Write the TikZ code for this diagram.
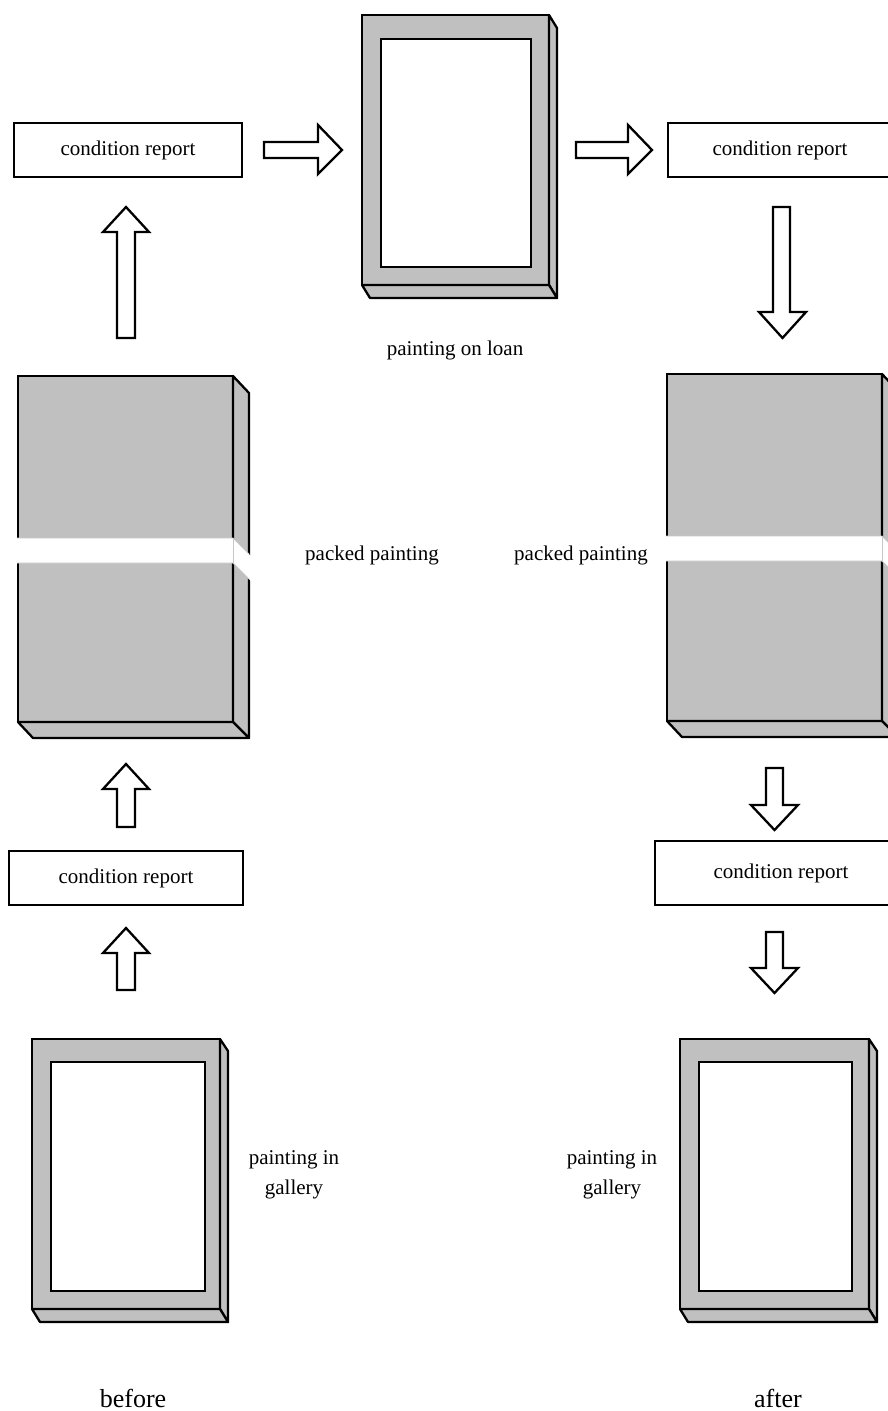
\documentclass[tikz,border=0pt]{standalone}
\usepackage{fontspec}
\setmainfont{Liberation Serif}
\usetikzlibrary{calc}
\definecolor{boxgrey}{HTML}{C0C0C0}
\definecolor{bandline}{HTML}{C8C8C8}
\begin{document}
\begin{tikzpicture}[x=1pt,y=-1pt,
  report/.style={draw, line width=2.3pt, fill=white, minimum width=228pt, minimum height=54pt,
    inner sep=0pt, outer sep=0pt, font=\fontsize{21}{25}\selectfont},
  front/.style={draw, line width=2.3pt, fill=boxgrey, inner sep=0pt, outer sep=0pt},
  face/.style={draw, line width=2.3pt, fill=boxgrey, line join=round},
  canvas/.style={draw, line width=2.3pt, fill=white},
  lbl/.style={font=\fontsize{21}{30}\selectfont, align=center, inner sep=0pt},
  biglbl/.style={font=\fontsize{26}{30}\selectfont, inner sep=0pt},
  blockarrow/.style={draw, line width=2.3pt, fill=white, line join=miter},
  band/.style={draw=bandline, line width=0.8pt}
]
\useasboundingbox (0,0) rectangle (888,1411);

% ---------- condition reports ----------
\node[report] (crTL) at (128,150) {condition report};
\node[report, minimum width=224pt] (crTR) at (780,150) {condition report};
\node[report, minimum width=234pt] (crML) at (126,878) {condition report};
\node[report, minimum width=252pt, minimum height=64pt] (crMR) at (781,873) {condition report};

% ---------- painting on loan ----------
\node[front, minimum width=187pt, minimum height=270pt] (loan) at (455.5,150) {};
\draw[face] (loan.north east) -- ++(8,13) -- ($(loan.south east)+(8,13)$) -- (loan.south east) -- cycle;
\draw[face] (loan.south west) -- ++(8,13) -- ($(loan.south east)+(8,13)$) -- (loan.south east) -- cycle;
\draw[canvas] ($(loan.north west)+(19,24)$) rectangle ($(loan.south east)+(-18,-18)$);

% ---------- gallery paintings ----------
\node[front, minimum width=188pt, minimum height=270pt] (galL) at (126,1174) {};
\draw[face] (galL.north east) -- ++(8,12) -- ($(galL.south east)+(8,13)$) -- (galL.south east) -- cycle;
\draw[face] (galL.south west) -- ++(8,13) -- ($(galL.south east)+(8,13)$) -- (galL.south east) -- cycle;
\draw[canvas] ($(galL.north west)+(19,23)$) rectangle ($(galL.south east)+(-15,-18)$);

\node[front, minimum width=189pt, minimum height=270pt] (galR) at (774.5,1174) {};
\draw[face] (galR.north east) -- ++(8,12) -- ($(galR.south east)+(8,13)$) -- (galR.south east) -- cycle;
\draw[face] (galR.south west) -- ++(8,13) -- ($(galR.south east)+(8,13)$) -- (galR.south east) -- cycle;
\draw[canvas] ($(galR.north west)+(19,23)$) rectangle ($(galR.south east)+(-17,-18)$);

% ---------- packed paintings ----------
\node[front, minimum width=215pt, minimum height=346pt] (packL) at (125.5,549) {};
\draw[face] (packL.north east) -- ++(16,17) -- ($(packL.south east)+(16,16)$) -- (packL.south east) -- cycle;
\draw[face] (packL.south west) -- ++(15,16) -- ($(packL.south east)+(16,16)$) -- (packL.south east) -- cycle;
\fill[white] (16,538) -- (233,538) -- (251.5,556.5) -- (251.5,581.5) -- (233,563) -- (16,563) -- cycle;
\draw[band] (17,538) -- (233,538) -- (249,554);
\draw[band] (17,563) -- (233,563) -- (249,579);
\draw[band] (233,538) -- (233,563);

\node[front, minimum width=215pt, minimum height=347pt] (packR) at (774.5,547.5) {};
\draw[face] (packR.north east) -- ++(16,17) -- ($(packR.south east)+(16,16)$) -- (packR.south east) -- cycle;
\draw[face] (packR.south west) -- ++(15,16) -- ($(packR.south east)+(16,16)$) -- (packR.south east) -- cycle;
\fill[white] (665,536) -- (882,536) -- (900,554) -- (900,579) -- (882,561) -- (665,561) -- cycle;
\draw[band] (666,536) -- (882,536) -- (898,552);
\draw[band] (666,561) -- (882,561) -- (898,577);
\draw[band] (882,536) -- (882,561);

% ---------- block arrows ----------
% crTL -> loan
\draw[blockarrow] (264,142) -- (318,142) -- (318,125) -- (342,150) -- (318,174) -- (318,158) -- (264,158) -- cycle;
% loan -> crTR
\draw[blockarrow] (576,142) -- (628,142) -- (628,125) -- (652,150) -- (628,174) -- (628,158) -- (576,158) -- cycle;
% packL -> crTL
\draw[blockarrow] (117,338) -- (117,232) -- (103,232) -- (126,207) -- (149,232) -- (135,232) -- (135,338) -- cycle;
% crTR -> packR
\draw[blockarrow] (773,207) -- (773,312) -- (759,312) -- (782.5,338) -- (806,312) -- (790,312) -- (790,207) -- cycle;
% crML -> packL
\draw[blockarrow] (117,827) -- (117,789) -- (103,789) -- (126,764) -- (149,789) -- (135,789) -- (135,827) -- cycle;
% galL -> crML
\draw[blockarrow] (117,990) -- (117,953) -- (103,953) -- (126,928) -- (149,953) -- (135,953) -- (135,990) -- cycle;
% packR -> crMR
\draw[blockarrow] (766,768) -- (766,805) -- (751,805) -- (774.5,830) -- (798,805) -- (783,805) -- (783,768) -- cycle;
% crMR -> galR
\draw[blockarrow] (766,932) -- (766,968) -- (751,968) -- (774.5,993) -- (798,968) -- (783,968) -- (783,932) -- cycle;

% ---------- labels ----------
\node[lbl] (lLoan) at (455,350) {painting on loan};
\node[lbl] (lPackL) at (372,555) {packed painting};
\node[lbl] (lPackR) at (581,555) {packed painting};
\node[lbl] (lGalL) at (294,1175) {painting in\\gallery};
\node[lbl] (lGalR) at (612,1175) {painting in\\gallery};
\node[biglbl] (before) at (133,1398) {before};
\node[biglbl] (after) at (778,1398) {after};
\end{tikzpicture}
\end{document}
